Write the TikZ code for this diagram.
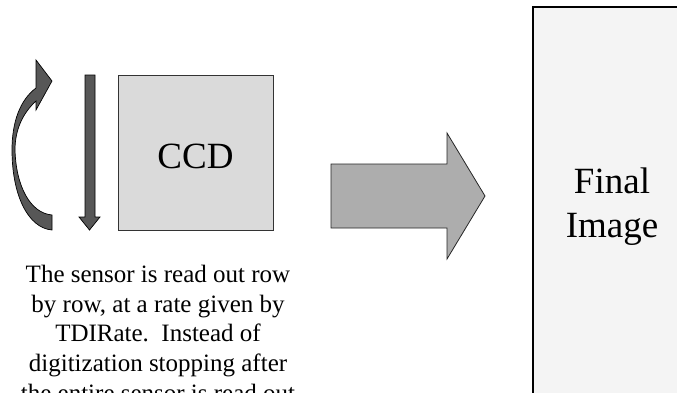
\documentclass[tikz,border=0pt]{standalone}
\usepackage{fontspec}
\setmainfont{Liberation Serif}
\definecolor{ccdfill}{HTML}{DADADA}
\definecolor{finalfill}{HTML}{F4F4F4}
\definecolor{arrowdark}{HTML}{575757}
\definecolor{arrowgray}{HTML}{ADADAD}
\tikzset{
  boxstyle/.style={draw=black!80, line width=0.9pt},
  darkarrow/.style={fill=arrowdark, draw=black, line width=0.7pt, line join=miter},
  bigarrow/.style={fill=arrowgray, draw=black!85, line width=0.8pt, line join=miter},
  bigtext/.style={font=\fontsize{37}{44}\selectfont, align=center, inner sep=0pt},
  bodytext/.style={font=\fontsize{25}{29.8}\selectfont, align=center, inner sep=0pt}
}
\begin{document}
\begin{tikzpicture}[x=1pt, y=-1pt]
\useasboundingbox (0,0) rectangle (677,392);
\clip (0,0) rectangle (677,392);
% CCD box
\draw[boxstyle, fill=ccdfill] (118,75) rectangle (273,230);
\node[bigtext, anchor=base] (ccd) at (195.5,168) {CCD};
% straight down arrow
\draw[darkarrow] (85,75) -- (95,75) -- (95,217) -- (100,217) -- (89.5,230) -- (79,217) -- (85,217) -- cycle;
% curved arrow
\draw[darkarrow] (52,230) .. controls (28,228) and (12,195) .. (12,150)
  .. controls (12,122) and (20,100) .. (36,88)
  -- (36,60) -- (52,81) -- (36,110) -- (36,101)
  .. controls (24,112) and (15,128) .. (15,150)
  .. controls (16,186) and (30,213) .. (52,215) -- cycle;
% big arrow
\draw[bigarrow] (331,164) -- (447,164) -- (447,133) -- (485,196) -- (447,259) -- (447,228) -- (331,228) -- cycle;
% final image box
\draw[line width=1.1pt, draw=black, fill=finalfill] (533,7) rectangle (690,400);
\node[bigtext, anchor=base] (final) at (612,237) {Final\\Image};
% description
\node[bodytext, anchor=base] (desc) at (158,401.5) {The sensor is read out row\\by row, at a rate given by\\TDIRate.\ \ Instead of\\digitization stopping after\\the entire sensor is read out};
\end{tikzpicture}
\end{document}
